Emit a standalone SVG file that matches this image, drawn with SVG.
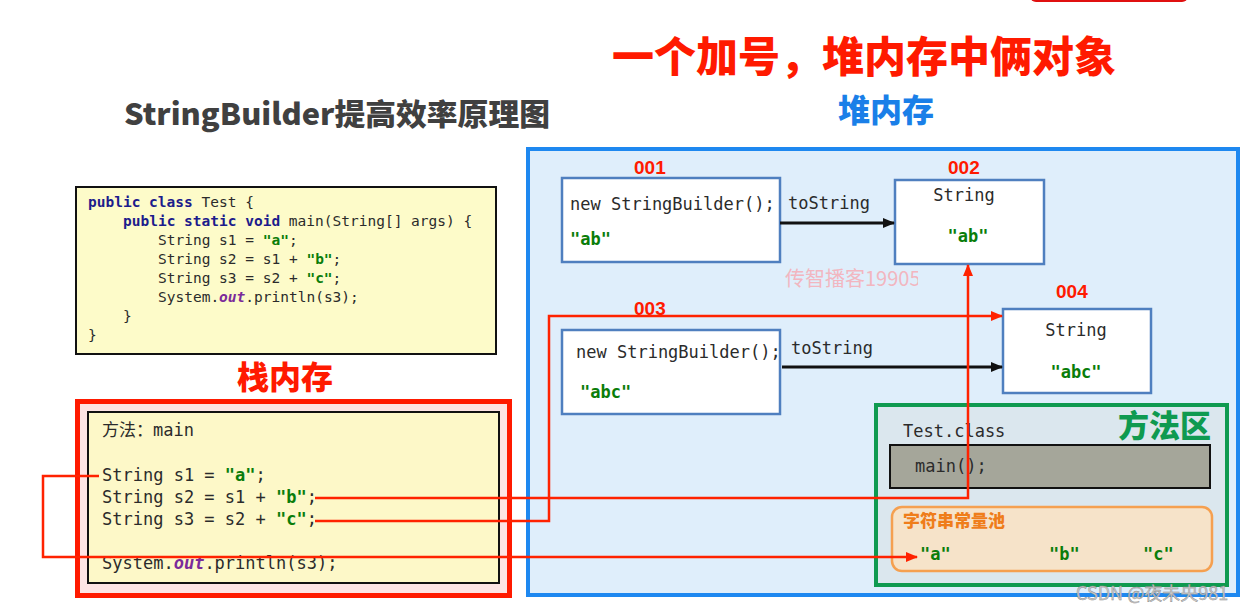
<svg xmlns="http://www.w3.org/2000/svg" width="1242" height="612" viewBox="0 0 1242 612">
<defs>
<style>
.mono{font-family:"DejaVu Sans Mono","Liberation Mono","Noto Sans CJK SC",monospace;fill:#2b2b2b}
.code{font-size:14.5px}
.c17{font-size:17px}
.kw{font-weight:bold;fill:#1c1c8c}
.str{font-weight:bold;fill:#0a7d0a}
.out{font-style:italic;font-weight:bold;fill:#7b2a9a}
.cjk{font-family:"Noto Sans CJK SC",sans-serif;font-weight:900}
.num{font-family:"Liberation Sans",Arial,sans-serif;font-weight:bold;font-size:19px;fill:#ff1a00}
.obj{fill:#ffffff;stroke:#4f7fbf;stroke-width:2.5}
.red{fill:none;stroke:#ff2200;stroke-width:2.5}
.blk{fill:none;stroke:#111111;stroke-width:3}
</style>
<marker id="ah-red" viewBox="0 0 12 10" refX="11" refY="5" markerWidth="12" markerHeight="10" markerUnits="userSpaceOnUse" orient="auto">
<path d="M0,0 L12,5 L0,10 z" fill="#ff2200"/>
</marker>
<marker id="ah-blk" viewBox="0 0 12 10" refX="11" refY="5" markerWidth="12" markerHeight="10" markerUnits="userSpaceOnUse" orient="auto">
<path d="M0,0 L12,5 L0,10 z" fill="#111111"/>
</marker>
<clipPath id="wmclip"><rect x="780" y="262" width="138" height="30"/></clipPath>
</defs>
<rect x="0" y="0" width="1242" height="612" fill="#ffffff"/>
<rect x="1030" y="-30" width="158" height="32" rx="6" fill="#e01010"/>

<g id="titles">
<text x="612" y="72" class="cjk" font-size="42" fill="#ff1a00">一个加号，堆内存中俩对象</text>
<text x="124" y="125" class="cjk" font-size="30" fill="#404040" font-weight="bold" textLength="426" lengthAdjust="spacingAndGlyphs">StringBuilder提高效率原理图</text>
<text x="838" y="122" class="cjk" font-size="32" fill="#1a7fe8">堆内存</text>
<text x="237" y="389" class="cjk" font-size="32" fill="#ff1a00">栈内存</text>
</g>

<g id="code">
<rect x="76" y="187" width="420" height="167" fill="#fdfbc9" stroke="#111" stroke-width="2"/>
<text class="mono code" x="88" y="207"><tspan class="kw">public class</tspan> Test {</text>
<text class="mono code" x="123" y="226"><tspan class="kw">public static void</tspan> main(String[] args) {</text>
<text class="mono code" x="158" y="245">String s1 = <tspan class="str">"a"</tspan>;</text>
<text class="mono code" x="158" y="264">String s2 = s1 + <tspan class="str">"b"</tspan>;</text>
<text class="mono code" x="158" y="283">String s3 = s2 + <tspan class="str">"c"</tspan>;</text>
<text class="mono code" x="158" y="302">System.<tspan class="out">out</tspan>.println(s3);</text>
<text class="mono code" x="123" y="321">}</text>
<text class="mono code" x="88" y="340">}</text>
</g>

<g id="heap">
<rect x="528" y="149" width="710" height="446" fill="#dfeefb" stroke="#1e88f0" stroke-width="4"/>
<g clip-path="url(#wmclip)"><text x="785" y="286" font-family="Noto Sans CJK SC,sans-serif" font-size="20" fill="#f2b6c0">传智播客19905</text></g>
</g>

<g id="obj001">
<text x="634" y="174" class="num">001</text>
<rect x="562" y="178" width="218" height="84" class="obj"/>
<text class="mono c17" x="570" y="210">new StringBuilder();</text>
<text class="mono c17 str" x="570" y="245">"ab"</text>
</g>

<g id="obj002">
<text x="948" y="174" class="num">002</text>
<rect x="895" y="180" width="149" height="84" class="obj"/>
<text class="mono c17" x="964" y="201" text-anchor="middle">String</text>
<text class="mono c17 str" x="968" y="242" text-anchor="middle">"ab"</text>
</g>

<g id="obj003">
<text x="634" y="315" class="num">003</text>
<rect x="562" y="330" width="218" height="84" class="obj"/>
<text class="mono c17" x="576" y="358">new StringBuilder();</text>
<text class="mono c17 str" x="580" y="398">"abc"</text>
</g>

<g id="obj004">
<text x="1056" y="298" class="num">004</text>
<rect x="1003" y="309" width="148" height="84" class="obj"/>
<text class="mono c17" x="1076" y="336" text-anchor="middle">String</text>
<text class="mono c17 str" x="1076" y="378" text-anchor="middle">"abc"</text>
</g>

<g id="method-area">
<rect x="876" y="405" width="351" height="180" fill="#dbe7ee" stroke="#0f9a50" stroke-width="4"/>
<text x="1118" y="437" class="cjk" font-size="31" fill="#0f9a50">方法区</text>
<text class="mono c17" x="903" y="437">Test.class</text>
<rect x="890" y="445" width="320" height="43" fill="#a5a69a" stroke="#111" stroke-width="2"/>
<text class="mono c17" x="915" y="472">main();</text>
</g>

<g id="string-pool">
<rect x="892" y="507" width="320" height="64" rx="10" fill="#f6e3c9" stroke="#f5a050" stroke-width="2.5"/>
<text x="903" y="527" class="cjk" font-size="17" fill="#ef7d1a" font-weight="bold">字符串常量池</text>
<text class="mono c17 str" x="920" y="560">"a"</text>
<text class="mono c17 str" x="1049" y="560">"b"</text>
<text class="mono c17 str" x="1143" y="560">"c"</text>
</g>

<g id="stack">
<rect x="77.5" y="401.5" width="432" height="194" fill="#fde4e4" stroke="#ff1a00" stroke-width="5"/>
<rect x="88" y="412" width="411" height="171" fill="#fdf8c8" stroke="#111" stroke-width="2"/>
<text class="mono c17" x="102" y="436">方法：main</text>
<text class="mono c17" x="102" y="481">String s1 = <tspan class="str">"a"</tspan>;</text>
<text class="mono c17" x="102" y="503">String s2 = s1 + <tspan class="str">"b"</tspan>;</text>
<text class="mono c17" x="102" y="525">String s3 = s2 + <tspan class="str">"c"</tspan>;</text>
<text class="mono c17" x="102" y="569">System.<tspan class="out">out</tspan>.println(s3);</text>
</g>

<g id="connectors">
<line x1="780" y1="223" x2="894" y2="223" class="blk" marker-end="url(#ah-blk)"/>
<text class="mono c17" x="788" y="209">toString</text>
<line x1="782" y1="367" x2="1002" y2="367" class="blk" marker-end="url(#ah-blk)"/>
<text class="mono c17" x="791" y="354">toString</text>
<polyline points="99,476 43,476 43,557 917,557" class="red" marker-end="url(#ah-red)"/>
<polyline points="315,498 968,498 968,265" class="red" marker-end="url(#ah-red)"/>
<polyline points="315,521 549,521 549,316 1002,316" class="red" marker-end="url(#ah-red)"/>
</g>

<text x="1076" y="600" font-family="Noto Sans CJK SC,sans-serif" font-size="18" fill="#c8c8c8" stroke="#8a8a8a" stroke-width="0.4">CSDN @夜未央981</text>
</svg>
